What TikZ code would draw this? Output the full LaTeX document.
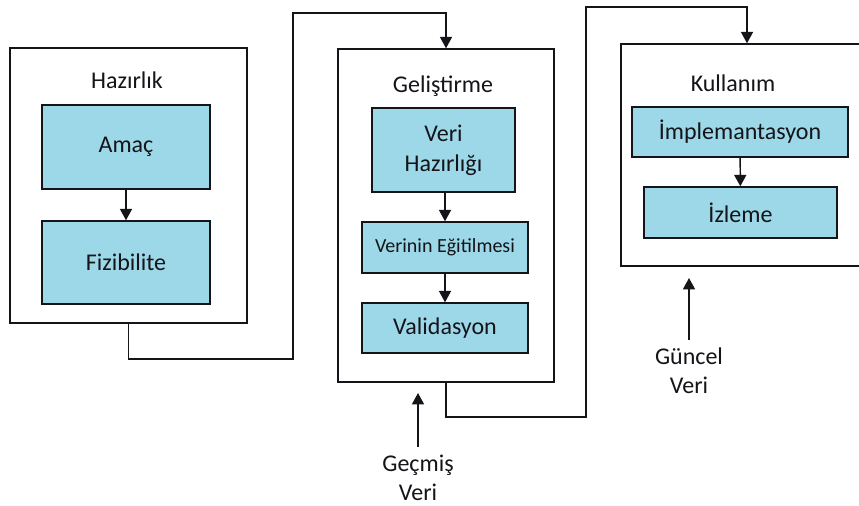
\documentclass[tikz,border=0pt]{standalone}
\usepackage{fontspec}
\setmainfont{Carlito}
\usepackage{xcolor}
\usepackage{tikz}
\usetikzlibrary{arrows.meta,positioning}
\definecolor{ink}{RGB}{20,20,25}
\definecolor{stepfill}{RGB}{156,216,232}
\tikzset{
  phase/.style={
    draw=ink, line width=1.1pt, fill=white,
    minimum width=#1, inner sep=0pt,
  },
  phase/.default=160,
  phaselbl/.style={
    font=\fontsize{18}{22.5}\selectfont, text=ink, inner sep=0pt,
  },
  stepbox/.style={
    draw=ink, line width=1.1pt, fill=stepfill,
    align=center, font=\fontsize{18}{22.5}\selectfont, text=ink, inner sep=0pt,
  },
  inlbl/.style={
    align=center, font=\fontsize{18}{21.5}\selectfont, text=ink, inner sep=0pt,
  },
  arr/.style={-{Triangle[length=8.5pt,width=9pt]}, line width=1.1pt, draw=ink},
}

\begin{document}
\begin{tikzpicture}[x=0.75pt,y=-0.75pt]
  \useasboundingbox (0,0) rectangle (859,506);

  % outer phase frames
  \node[phase, minimum width=237*0.75pt, minimum height=275*0.75pt] (hazirlik) at (128.5,185.5) {};
  \node[phase, minimum width=216*0.75pt, minimum height=333*0.75pt] (gelistirme) at (446,215.5) {};
  \node[phase, minimum width=252*0.75pt, minimum height=222*0.75pt] (kullanim) at (747,155) {};

  \node[phaselbl] (hazirlikT) at (127,80) {Hazırlık};
  \node[phaselbl] (gelistirmeT) at (443,86) {Geliştirme};
  \node[phaselbl] (kullanimT) at (733,83) {Kullanım};

  % hazirlik steps
  \node[stepbox, minimum width=168*0.75pt, minimum height=84*0.75pt] (amac) at (126,147) {Amaç};
  \node[stepbox, minimum width=168*0.75pt, minimum height=83*0.75pt] (fizib) at (126,262.5) {Fizibilite};
  \draw[arr] (amac)--(fizib);

  % gelistirme steps
  \node[stepbox, minimum width=143*0.75pt, minimum height=84*0.75pt] (verihaz) at (443.5,150) {Veri\\Hazırlığı};
  \node[stepbox, minimum width=166*0.75pt, minimum height=51*0.75pt,
        font=\fontsize{15}{18}\selectfont] (egitim) at (445,247.5) {Verinin Eğitilmesi};
  \node[stepbox, minimum width=166*0.75pt, minimum height=50*0.75pt] (valid) at (445,328) {Validasyon};
  \draw[arr] (verihaz.south-|egitim)--(egitim);
  \draw[arr] (egitim)--(valid);

  % kullanim steps
  \node[stepbox, minimum width=216*0.75pt, minimum height=50*0.75pt] (implem) at (740,132) {İmplemantasyon};
  \node[stepbox, minimum width=193*0.75pt, minimum height=51*0.75pt] (izleme) at (740.5,212.5) {İzleme};
  \draw[arr] (implem)--(izleme);

  % links between phases
  \coordinate (k1) at (293,359);
  \coordinate (k2) at (293,13);
  \draw[arr] (hazirlik.south) |- (k1) -- (k2) -| (gelistirme.north);
  \coordinate (k3) at (586,417);
  \coordinate (k4) at (586,7);
  \draw[arr] (gelistirme.south) |- (k3) -- (k4) -| (kullanim.north);

  % data inputs
  \node[inlbl] (gecmis) at (418,478) {Geçmiş\\Veri};
  \coordinate (gecmisuc) at (418,393);
  \draw[arr, shorten <=6pt] (gecmis.north)--(gecmisuc);
  \node[inlbl] (guncel) at (689,371) {Güncel\\Veri};
  \coordinate (guncelduc) at (689,278);
  \draw[arr, shorten <=6pt] (guncel.north)--(guncelduc);
\end{tikzpicture}
\end{document}
